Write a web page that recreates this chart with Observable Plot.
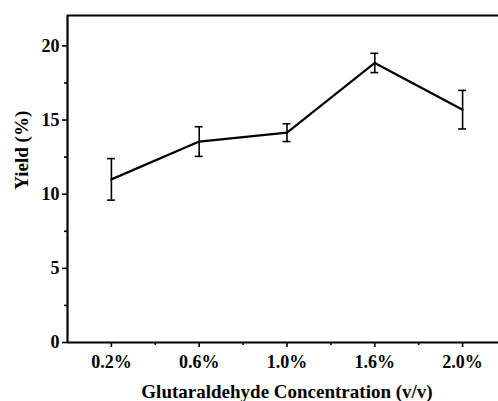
<!DOCTYPE html>
<html>
<head>
<meta charset="utf-8">
<script src="https://cdn.jsdelivr.net/npm/d3@7"></script>
<script src="https://cdn.jsdelivr.net/npm/@observablehq/plot@0.6"></script>
<style>
  html, body { margin: 0; padding: 0; background: #fff; }
  svg { display: block; }
</style>
</head>
<body>
<div id="chart"></div>
<script>
// Glutaraldehyde concentration vs. yield, mean ± error
const concentrations = ["0.2%", "0.6%", "1.0%", "1.6%", "2.0%"];
const yieldMean = [11.0, 13.55, 14.15, 18.85, 15.7];
const yieldErr = [1.4, 1.0, 0.6, 0.65, 1.3];
const yTicks = [0, 5, 10, 15, 20];
const yMinorTicks = [2.5, 7.5, 12.5, 17.5];
const xTitle = ["Glutaraldehyde Concentration (v/v)"];
const yTitle = ["Yield (%)"];

const rows = concentrations.map((c, i) => ({
  i, label: c, y: yieldMean[i], lo: yieldMean[i] - yieldErr[i], hi: yieldMean[i] + yieldErr[i]
}));

const font = "Liberation Serif";
const capHalf = 0.045;
const yTop = 22.05;

const chart = Plot.plot({
  width: 498,
  height: 401,
  marginLeft: 67,
  marginTop: 15,
  marginBottom: 59,
  marginRight: 0,
  style: "font-family: 'Liberation Serif', serif; font-size: 17px; color: #000; background: #fff;",
  x: { domain: [-0.5, 4.5], range: [67, 506] },
  y: { domain: [0, yTop], range: [342, 15] },
  marks: [
    // frame: left, bottom and top edges
    Plot.ruleX([-0.5], { y1: 0, y2: yTop, strokeWidth: 2.2 }),
    Plot.ruleY([0], { x1: -0.5, x2: 4.6, strokeWidth: 2.2 }),
    Plot.ruleY([yTop], { x1: -0.5, x2: 4.6, strokeWidth: 2.2 }),
    // axes
    Plot.axisY({ ticks: yTicks, tickSize: 5, tickPadding: 3, strokeWidth: 1.6, label: null, fontSize: 18, fontWeight: "bold", fontFamily: font }),
    Plot.axisY({ ticks: yMinorTicks, tickSize: 3, strokeWidth: 1.6, text: null, label: null }),
    Plot.axisX({ ticks: rows.map(d => d.i), tickFormat: i => concentrations[i], tickSize: 5, tickPadding: 8, strokeWidth: 1.6, label: null, fontSize: 18, fontWeight: "bold", fontFamily: font }),
    Plot.axisX({ ticks: [0.5, 1.5, 2.5, 3.5], tickSize: 3, strokeWidth: 1.6, text: null, label: null }),
    // error bars
    Plot.ruleX(rows, { x: "i", y1: "lo", y2: "hi", strokeWidth: 1.6 }),
    Plot.ruleY(rows, { y: "hi", x1: d => d.i - capHalf, x2: d => d.i + capHalf, strokeWidth: 1.6 }),
    Plot.ruleY(rows, { y: "lo", x1: d => d.i - capHalf, x2: d => d.i + capHalf, strokeWidth: 1.6 }),
    // mean line
    Plot.line(rows, { x: "i", y: "y", stroke: "#000", strokeWidth: 2.2 }),
    // axis titles
    Plot.text(xTitle, {
      frameAnchor: "bottom", x: 2.0, dy: 55, text: d => d, fontSize: 19, fontWeight: "bold", fontFamily: font
    }),
    Plot.text(yTitle, {
      frameAnchor: "left", y: 10.3, dx: -46, rotate: -90, text: d => d, fontSize: 19, fontWeight: "bold", fontFamily: font
    })
  ]
});

document.getElementById("chart").appendChild(chart);
</script>
</body>
</html>
